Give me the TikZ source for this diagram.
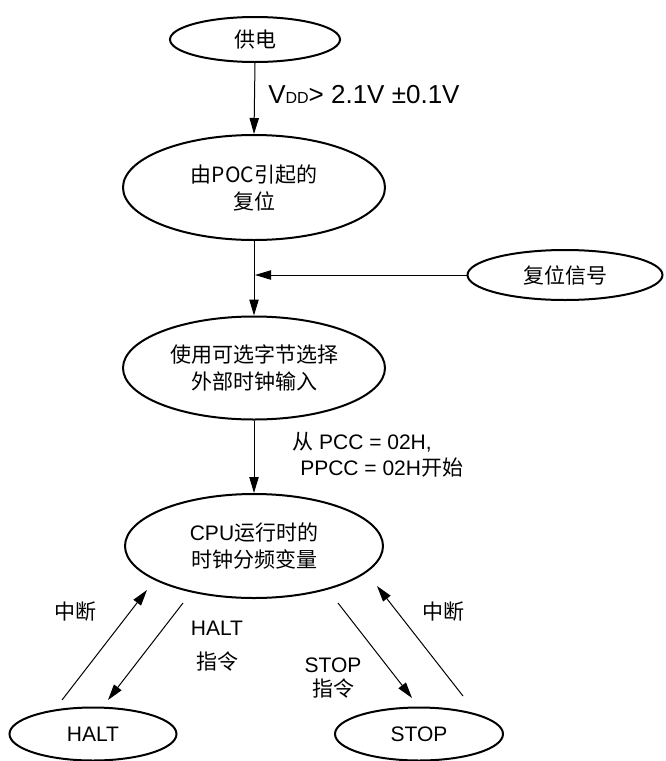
\documentclass[tikz,border=0pt]{standalone}
\usepackage{fontspec}
\setmainfont{Liberation Sans}
\newfontfamily\cjk{Noto Sans CJK SC}
\usetikzlibrary{shapes.geometric,arrows.meta}
\begin{document}
\begin{tikzpicture}[x=0.75pt,y=-0.75pt,
  st/.style={ellipse, draw, line width=1.5pt, inner sep=0pt, align=center,
    font=\fontsize{15.75}{20.25}\selectfont},
  conn/.style={line width=0.75pt, -{Triangle[length=12pt,width=7pt]}},
  lbl/.style={font=\fontsize{15.75}{19.5}\selectfont, inner sep=0pt, align=center}]
\useasboundingbox (0,0) rectangle (665,761);

\node[st, minimum width=127.5pt, minimum height=33.75pt] (pwr) at (255,39.5) {{\cjk 供电}};
\node[st, minimum width=196.5pt, minimum height=78.75pt] (poc) at (254,187.5) {{\cjk 由POC引起的}\\{\cjk 复位}};
\node[st, minimum width=146.25pt, minimum height=37.5pt] (rst) at (565,275) {{\cjk 复位信号}};
\node[st, minimum width=196.5pt, minimum height=77.25pt] (sel) at (254,368) {{\cjk 使用可选字节选择}\\{\cjk 外部时钟输入}};
\node[st, minimum width=193.5pt, minimum height=78pt] (cpu) at (254,546) {CPU{\cjk 运行时的}\\{\cjk 时钟分频变量}};
\node[st, minimum width=125.25pt, minimum height=39.75pt] (halt) at (93,734) {HALT};
\node[st, minimum width=126pt, minimum height=39.75pt] (stop) at (419,734) {STOP};

\coordinate (j) at (255,275);
\draw[conn] (pwr.south) -- (poc.north);
\draw[conn] (poc.south) -- (sel.north);
\draw[conn] (rst.west) -- (j);
\draw[conn] (sel.south) -- (cpu.north);

\coordinate (h1a) at (62,700);  \coordinate (h1b) at (147,590);
\coordinate (h2a) at (183,603); \coordinate (h2b) at (108,700);
\coordinate (s1a) at (338,603); \coordinate (s1b) at (412,698);
\coordinate (s2a) at (463,696); \coordinate (s2b) at (377,586);
\draw[conn] (h1a) -- (h1b);
\draw[conn] (h2a) -- (h2b);
\draw[conn] (s1a) -- (s1b);
\draw[conn] (s2a) -- (s2b);

\node[anchor=base west, inner sep=0pt, font=\fontsize{19.5}{22}\selectfont] (vdd) at (268,103)
  {V{\fontsize{12}{13}\selectfont DD}> 2.1V ±0.1V};
\node[lbl, anchor=west, align=left, font=\fontsize{15.75}{19.5}\selectfont] (pcc) at (292,455)
  {{\cjk 从} PCC = 02H,\\\hspace{6pt}PPCC = 02H{\cjk 开始}};
\node[lbl] (int1) at (75,612) {\cjk 中断};
\node[lbl] (int2) at (443,612) {\cjk 中断};
\node[lbl] (hl1) at (217,628) {HALT};
\node[lbl] (hl2) at (217,662) {\cjk 指令};
\node[lbl] (sl1) at (333,665) {STOP};
\node[lbl] (sl2) at (333,689) {\cjk 指令};
\end{tikzpicture}
\end{document}
